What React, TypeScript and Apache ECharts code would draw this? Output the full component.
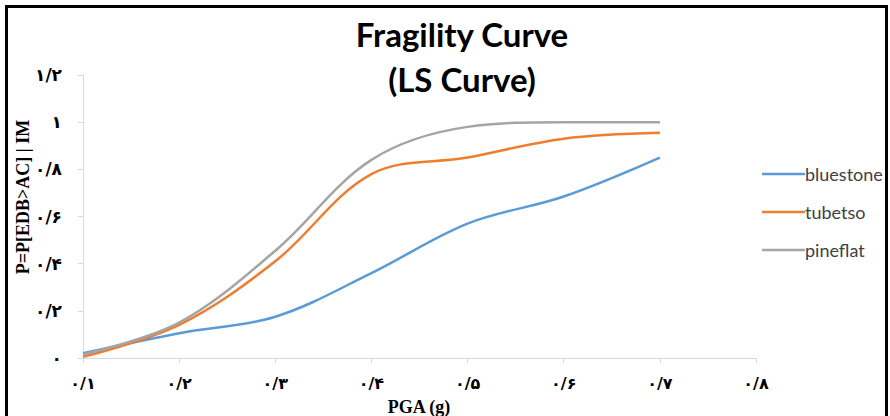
import React, { useEffect, useRef } from "react";
import * as echarts from "echarts";

const pga = [0.1, 0.2, 0.3, 0.4, 0.5, 0.6, 0.7];
const bluestone = [0.02, 0.105, 0.175, 0.36, 0.57, 0.685, 0.85];
const tubetso = [0.005, 0.14, 0.41, 0.78, 0.85, 0.93, 0.955];
const pineflat = [0.015, 0.15, 0.455, 0.84, 0.98, 1.0, 1.0];
const seriesNames = ["bluestone", "tubetso", "pineflat"];
const colors = ["#5B9BD5", "#ED7D31", "#A5A5A5"];

const faDigits = "۰۱۲۳۴۵۶۷۸۹";
function toFa(v: number): string {
  const s = String(Math.round(v * 10) / 10);
  return s
    .split("")
    .map((c) => (c >= "0" && c <= "9" ? faDigits[Number(c)] : c === "." ? "/" : c))
    .join("");
}

export default function App() {
  const ref = useRef<HTMLDivElement>(null);
  useEffect(() => {
    if (!ref.current) return;
    const chart = echarts.init(ref.current, undefined, { renderer: "svg" });
    const all = [bluestone, tubetso, pineflat];
    chart.setOption({
      animation: false,
      backgroundColor: "#ffffff",
      grid: { left: 83, top: 75, width: 673, height: 283, containLabel: false },
      legend: {
        orient: "vertical",
        left: 757,
        top: 158,
        icon: "rect",
        itemWidth: 43,
        itemHeight: 2.5,
        itemGap: 16,
        textStyle: {
          fontFamily: "Lato",
          fontSize: 18,
          lineHeight: 22,
          color: "#404040",
          padding: [0, 0, 0, -5],
        },
        data: seriesNames,
      },
      xAxis: {
        type: "value",
        min: 0.1,
        max: 0.8,
        interval: 0.1,
        axisLine: { show: true, lineStyle: { color: "#d9d9d9", width: 1 } },
        axisTick: { show: true, length: 5, lineStyle: { color: "#d9d9d9" } },
        splitLine: { show: false },
        axisLabel: {
          margin: 17,
          fontFamily: "DejaVu Sans",
          fontWeight: "bold",
          fontSize: 16,
          color: "#000",
          formatter: (v: number) => toFa(v),
        },
      },
      yAxis: {
        type: "value",
        min: 0,
        max: 1.2,
        interval: 0.2,
        axisLine: { show: true, lineStyle: { color: "#d9d9d9", width: 1 } },
        axisTick: { show: true, length: 5, lineStyle: { color: "#d9d9d9" } },
        splitLine: { show: false },
        axisLabel: {
          margin: 21,
          fontFamily: "DejaVu Sans",
          fontWeight: "bold",
          fontSize: 17,
          color: "#000",
          formatter: (v: number) => toFa(v),
        },
      },
      series: all.map((vals, i) => ({
        name: seriesNames[i],
        type: "line",
        data: pga.map((x, j) => [x, vals[j]]),
        smooth: 0.35,
        symbol: "none",
        color: colors[i],
        lineStyle: { width: 2.5, color: colors[i] },
      })),
      graphic: [
        {
          type: "rect",
          shape: { x: 6.5, y: 6.5, width: 880, height: 440 },
          style: { fill: "none", stroke: "#000", lineWidth: 3 },
          silent: true,
        },
        {
          type: "text",
          x: 462,
          y: 34,
          style: {
            text: "Fragility Curve",
            font: "bold 33px Lato",
            fill: "#000",
            align: "center",
            verticalAlign: "middle",
          },
        },
        {
          type: "text",
          x: 462,
          y: 79,
          style: {
            text: "(LS Curve)",
            font: "bold 33px Lato",
            fill: "#000",
            align: "center",
            verticalAlign: "middle",
          },
        },
        {
          type: "text",
          x: 23,
          y: 197,
          rotation: Math.PI / 2,
          style: {
            text: "P=P[EDB>AC] | IM",
            font: "bold 18px 'Liberation Serif'",
            fill: "#000",
            align: "center",
            verticalAlign: "middle",
          },
        },
        {
          type: "text",
          x: 419,
          y: 407,
          style: {
            text: "PGA (g)",
            font: "bold 18px 'Liberation Serif'",
            fill: "#000",
            align: "center",
            verticalAlign: "middle",
          },
        },
      ],
    });
    return () => chart.dispose();
  }, []);
  return (
    <div
      ref={ref}
      style={{ position: "absolute", left: 0, top: 0, width: 890, height: 416 }}
    />
  );
}
